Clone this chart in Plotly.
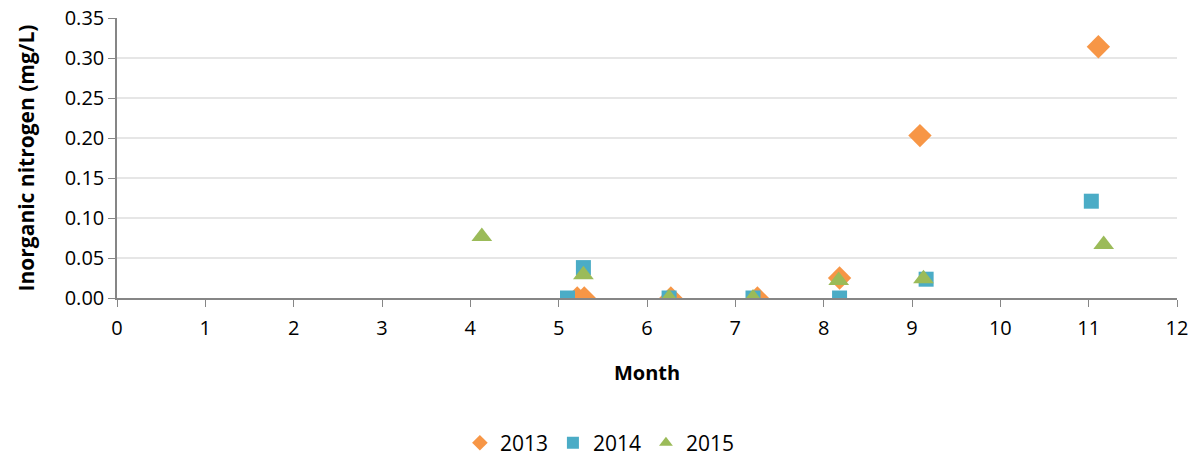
import plotly.graph_objects as go

months_2013 = [5.21, 5.29, 6.27, 7.25, 8.18, 9.09, 11.11]
values_2013 = [0.0, 0.0, 0.0, 0.0, 0.025, 0.203, 0.314]

months_2014 = [5.10, 5.28, 6.25, 7.20, 8.18, 9.16, 11.03]
values_2014 = [0.0, 0.038, 0.0, 0.0, 0.0, 0.0235, 0.121]

months_2015 = [4.13, 5.28, 6.25, 7.20, 8.17, 9.13, 11.17]
values_2015 = [0.077, 0.029, 0.0, 0.0, 0.022, 0.024, 0.067]

font_family = "Open Sans, Liberation Sans, sans-serif"

fig = go.Figure()
fig.add_trace(go.Scatter(x=months_2013, y=values_2013, mode="markers", name="2013",
                         marker=dict(symbol="diamond", size=18, color="#F79646")))
fig.add_trace(go.Scatter(x=months_2014, y=values_2014, mode="markers", name="2014",
                         marker=dict(symbol="square", size=15, color="#4BACC6")))
fig.add_trace(go.Scatter(x=months_2015, y=values_2015, mode="markers", name="2015",
                         marker=dict(symbol="triangle-up", size=18, color="#9BBB59")))

fig.update_layout(
    width=1195, height=462,
    margin=dict(l=117, r=18, t=18, b=164, autoexpand=False),
    paper_bgcolor="white", plot_bgcolor="white",
    font=dict(family=font_family, size=20, color="#000000"),
    showlegend=True,
    legend=dict(orientation="h", x=0.502, xanchor="center", xref="container",
                y=0.041, yanchor="middle", yref="container",
                font=dict(size=21), itemsizing="constant", tracegroupgap=0,
                itemwidth=30),
    xaxis=dict(range=[0, 12], dtick=1, tick0=0, showgrid=False,
               showline=True, linecolor="#868686", linewidth=1.5,
               ticks="outside", ticklen=7, tickcolor="#868686",
               ticklabelstandoff=4,
               zeroline=False, automargin=False,
               title=dict(text="<b>Month</b>", font=dict(size=20), standoff=26)),
    yaxis=dict(range=[0, 0.35], dtick=0.05, tickformat=".2f",
               showgrid=True, gridcolor="#E6E6E6", gridwidth=1.5,
               showline=True, linecolor="#868686", linewidth=1.5,
               ticks="outside", ticklen=7, tickcolor="#868686",
               ticklabeloverflow="allow",
               zeroline=False, automargin=False,
               title=dict(text="<b>Inorganic nitrogen (mg/L)</b>", font=dict(size=21), standoff=24)),
)

fig.write_html("out.html", config={"displayModeBar": False},
               post_script="document.body.style.margin='0';")
